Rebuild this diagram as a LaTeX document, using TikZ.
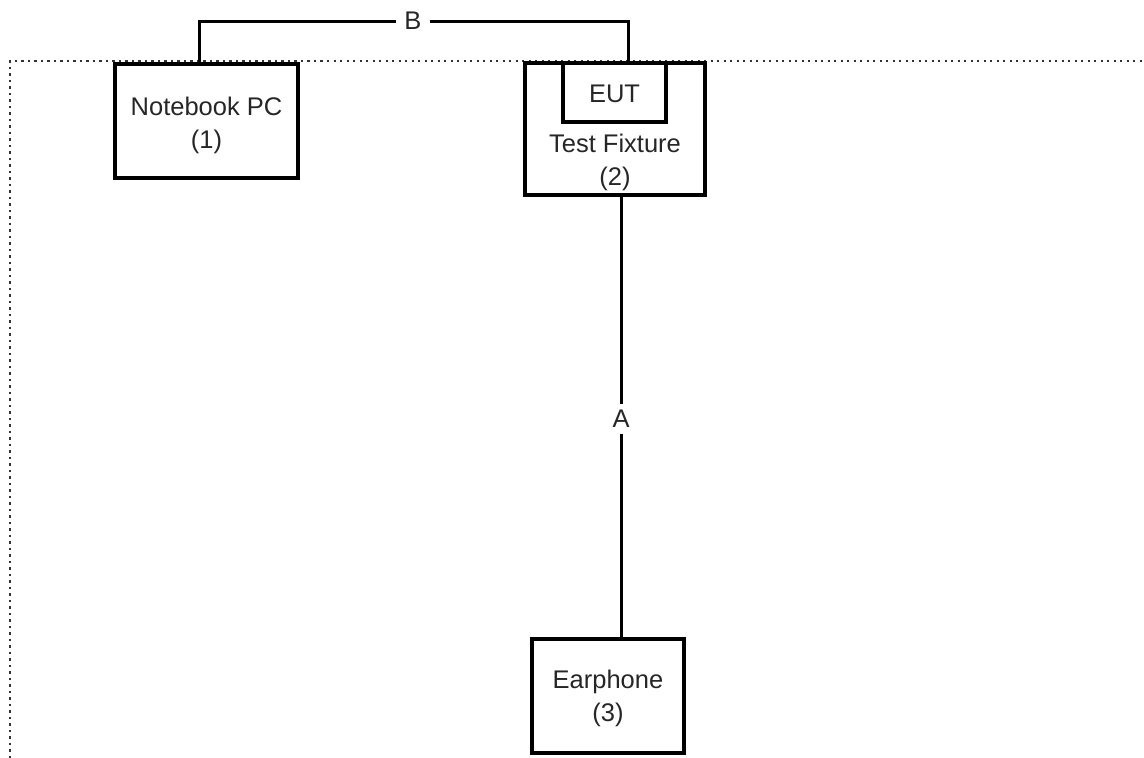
\documentclass[tikz,border=0pt]{standalone}
\usepackage{fontspec}
\setmainfont{Liberation Sans}
\usepackage{tikz}

\begin{document}
\begin{tikzpicture}[x=1pt,y=-1pt,
  every node/.style={font=\fontsize{25.5}{33}\selectfont,align=center,text=black!85},
  box/.style={draw=black,line width=3.2,minimum width=#1,inner sep=0},
  wire/.style={line width=3},
  cable/.style={fill=white,inner sep=8}]
\useasboundingbox (0,0) rectangle (1144,758);
\draw [line width=2.6,dash pattern=on 2.4 off 4.1,color=black!80] (10,758) -- (10,61) -- (1144,61);
\node [box=183,minimum height=114] (notebook) at (206.5,121) {};
\node [yshift=-4.5] (notebooktext) at (notebook.center) {Notebook PC\\(1)};
\node [box=180,minimum height=132] (fixture) at (615,129) {};
\node (fixturetext) at (615,162.5) {Test Fixture\\(2)};
\node [box=103,minimum height=59] (eut) at (614.5,92.5) {};
\node [yshift=-1.5] (euttext) at (eut.center) {EUT};
\node [box=152,minimum height=114] (earphone) at (608,696) {};
\node [yshift=-2.5] (earphonetext) at (earphone.center) {Earphone\\(3)};
\node [cable] (cableB) at (413,21) {B};
\node [cable,inner sep=6] (cableA) at (621,419) {A};
\coordinate (pcport) at ([xshift=-7.5]notebook.north);
\coordinate (fixport) at ([xshift=13]fixture.north);
\draw [wire] (pcport) |- (cableB.west);
\draw [wire] (cableB.east) -| (fixport);
\draw [wire] (cableA.north) -- (cableA.north |- fixture.south);
\draw [wire] (cableA.south) -- (cableA.south |- earphone.north);
\end{tikzpicture}
\end{document}
